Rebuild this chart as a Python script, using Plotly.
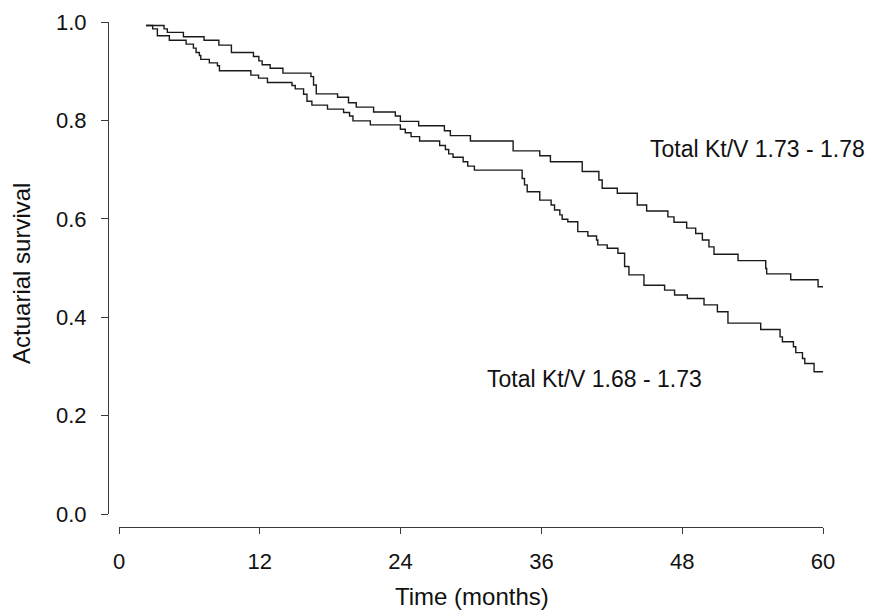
import plotly.graph_objects as go

# Survival curves (months, actuarial survival)
t_hi = [2.30, 3.84, 4.12, 5.49, 7.25, 8.51, 9.58, 11.46, 11.92, 12.20, 12.88, 13.97, 16.36, 16.58, 16.81,
        18.63, 19.56, 20.22, 21.70, 23.55, 23.98, 25.54, 27.73, 28.24, 29.95, 33.59, 35.86, 36.77, 39.48,
        40.90, 41.18, 42.47, 44.17, 44.97, 46.78, 47.30, 48.38, 49.15, 49.72, 50.28, 50.71, 52.76, 55.12,
        55.20, 57.25, 59.58, 60.0]
s_hi = [0.993, 0.986, 0.979, 0.970, 0.963, 0.953, 0.938, 0.930, 0.921, 0.913, 0.906, 0.896, 0.889, 0.872,
        0.854, 0.847, 0.836, 0.827, 0.817, 0.809, 0.798, 0.789, 0.779, 0.769, 0.758, 0.738, 0.728, 0.716,
        0.696, 0.679, 0.662, 0.652, 0.628, 0.616, 0.604, 0.593, 0.581, 0.570, 0.557, 0.543, 0.528, 0.515,
        0.499, 0.488, 0.476, 0.462, 0.462]

t_lo = [2.30, 2.87, 3.27, 4.29, 5.72, 6.34, 6.57, 6.85, 6.97, 7.70, 8.39, 8.56, 11.24, 11.89, 12.65, 14.74,
        15.02, 15.73, 16.02, 16.44, 17.77, 19.14, 19.65, 19.94, 21.42, 23.98, 24.40, 24.89, 25.62, 27.33,
        27.82, 28.10, 28.47, 29.33, 29.72, 30.29, 34.36, 34.56, 34.79, 35.86, 36.83, 37.12, 37.57, 37.77,
        38.25, 39.10, 39.96, 40.70, 40.81, 41.61, 42.52, 43.09, 43.46, 44.74, 46.50, 47.35, 48.44, 49.86,
        51.00, 51.90, 54.69, 56.34, 56.54, 57.48, 57.68, 58.25, 58.45, 59.24, 60.0]
s_lo = [0.993, 0.986, 0.972, 0.963, 0.955, 0.947, 0.938, 0.932, 0.924, 0.917, 0.911, 0.901, 0.892, 0.886,
        0.877, 0.871, 0.864, 0.853, 0.839, 0.831, 0.823, 0.816, 0.809, 0.799, 0.791, 0.782, 0.775, 0.767,
        0.758, 0.749, 0.741, 0.732, 0.725, 0.716, 0.707, 0.699, 0.682, 0.669, 0.655, 0.638, 0.628, 0.618,
        0.608, 0.599, 0.594, 0.574, 0.565, 0.557, 0.547, 0.540, 0.530, 0.503, 0.486, 0.465, 0.455, 0.445,
        0.438, 0.425, 0.411, 0.388, 0.375, 0.360, 0.350, 0.340, 0.328, 0.316, 0.306, 0.289, 0.289]

x_ticks = [0, 12, 24, 36, 48, 60]
y_ticks = [0.0, 0.2, 0.4, 0.6, 0.8, 1.0]
y_tick_text = ["0.0", "0.2", "0.4", "0.6", "0.8", "1.0"]

label_hi = "Total Kt/V 1.73 - 1.78"
label_lo = "Total Kt/V 1.68 - 1.73"
x_title = "Time (months)"
y_title = "Actuarial survival"

FONT = "Liberation Sans, Arial, sans-serif"
LINE = "#1a1a1a"
AX = "#3a3a3a"
TXT = "#111111"

fig = go.Figure()
fig.add_trace(go.Scatter(x=t_hi, y=s_hi, mode="lines", line=dict(shape="hv", color=LINE, width=1.4),
                         name=label_hi, showlegend=False, hoverinfo="skip", cliponaxis=False))
fig.add_trace(go.Scatter(x=t_lo, y=s_lo, mode="lines", line=dict(shape="hv", color=LINE, width=1.4),
                         name=label_lo, showlegend=False, hoverinfo="skip", cliponaxis=False))

fig.add_annotation(x=45.05, y=0.742, xref="x", yref="y", text=label_hi, showarrow=False,
                   xanchor="left", yanchor="middle", font=dict(family=FONT, size=23, color=TXT))
fig.add_annotation(x=31.2, y=0.274, xref="x", yref="y", text=label_lo, showarrow=False,
                   xanchor="left", yanchor="middle", font=dict(family=FONT, size=23, color=TXT))

fig.add_annotation(x=0.509, y=-0.1386, xref="paper", yref="paper", text=x_title, showarrow=False,
                   xanchor="center", yanchor="middle", font=dict(family=FONT, size=24, color=TXT))
fig.add_annotation(x=-0.1203, y=0.503, xref="paper", yref="paper", text=y_title, showarrow=False,
                   textangle=-90, xanchor="center", yanchor="middle",
                   font=dict(family=FONT, size=24, color=TXT))

# page body has an 8px default margin; size the figure to the visible area
fig.update_layout(
    width=865, height=605,
    margin=dict(l=100, r=50, t=14, b=86, pad=0, autoexpand=False),
    paper_bgcolor="white", plot_bgcolor="white",
    font=dict(family=FONT, size=22, color=TXT),
    xaxis=dict(domain=[11 / 715, 1], range=[0, 60], anchor="free", position=0, automargin=False,
               tickmode="array", tickvals=x_ticks, ticks="outside", ticklen=6, tickwidth=1.2,
               tickcolor=AX, showline=True, linecolor=AX, linewidth=1.2, showgrid=False,
               zeroline=False, ticklabelstandoff=8, tickfont=dict(family=FONT, size=22, color=TXT)),
    yaxis=dict(domain=[13 / 505, 1], range=[0, 1], anchor="free", position=0, automargin=False,
               tickmode="array", tickvals=y_ticks, ticktext=y_tick_text, ticks="outside", ticklen=7,
               tickwidth=1.2, tickcolor=AX, showline=True, linecolor=AX, linewidth=1.2,
               showgrid=False, zeroline=False, ticklabelstandoff=10,
               tickfont=dict(family=FONT, size=22, color=TXT)),
)

fig.write_html("out.html")
